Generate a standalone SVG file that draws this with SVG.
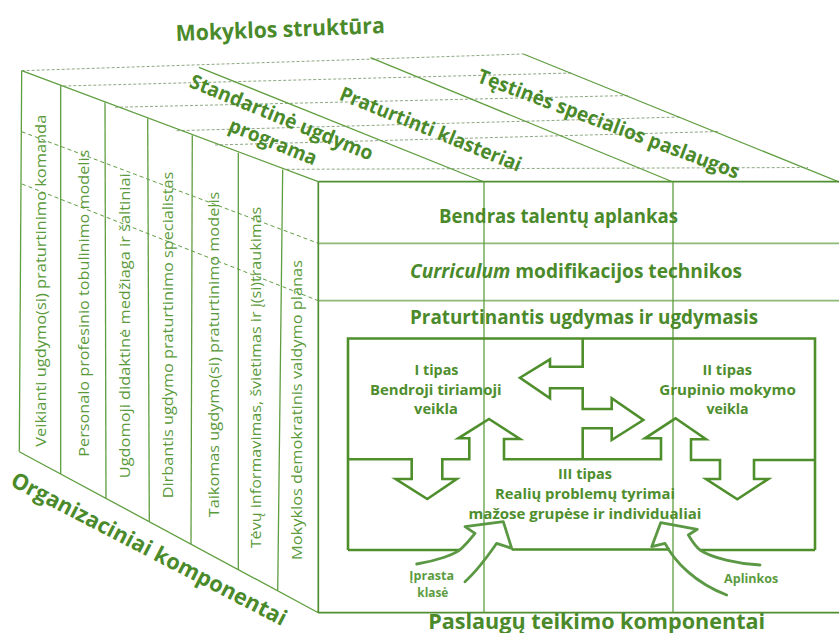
<svg xmlns="http://www.w3.org/2000/svg" width="839" height="633" viewBox="0 0 839 633">
<style>
text{font-family:"Open Sans","Noto Sans","DejaVu Sans",sans-serif}
.title{font-weight:700;font-size:22px;fill:#4a8a2a}
.topl{font-weight:700;font-size:20px;fill:#4a8a2a}
.front{font-weight:700;font-size:19px;fill:#4a8a2a}
.inner{font-weight:700;font-size:14.5px;fill:#4e8e2e}
.lab{font-weight:400;font-size:15px;fill:#5a9a3b}
.small{font-weight:700;font-size:12px;fill:#5c9b3f}
.edge{stroke:#4f8f30;stroke-width:1.7;fill:none}
.thin{stroke:#5f9e40;stroke-width:1.3;fill:none}
.pale{stroke:#8dbb77;stroke-width:1.8;fill:none}
.dash{stroke:#5f9e40;stroke-width:1;stroke-dasharray:4 3;fill:none}
.dashg{stroke:#8fa884;stroke-width:1;stroke-dasharray:3 2;fill:none}
.box{stroke:#4e8f2c;stroke-width:2.6;fill:none;stroke-linejoin:miter}
.hand{stroke:#5b9844;stroke-width:2.8;fill:none;stroke-linecap:round;stroke-linejoin:round}
</style>

<g id="cube">
  <line class="dashg" x1="21.7" y1="70.7" x2="523.4" y2="54"/>
  <line class="dashg" x1="63.3" y1="86" x2="572" y2="73"/>
  <line class="dashg" x1="115" y1="107.3" x2="630" y2="95.5"/>
  <line class="dashg" x1="176.7" y1="130.7" x2="680" y2="117"/>
  <line class="dashg" x1="215" y1="145" x2="719" y2="131.5"/>
  <line class="dashg" x1="286.7" y1="169.3" x2="808" y2="167.5"/>
  <line class="thin" x1="21.7" y1="70.7" x2="318.3" y2="181.7"/>
  <line class="thin" x1="199" y1="67.3" x2="484" y2="182"/>
  <line class="thin" x1="370.5" y1="57.6" x2="673" y2="182"/>
  <line class="thin" x1="523.4" y1="54" x2="839" y2="182"/>
  <line class="thin" x1="21.7" y1="70.7" x2="19.3" y2="451.7"/>
  <line class="thin" x1="19.3" y1="451.7" x2="318.3" y2="612.7"/>
  <line class="thin" x1="60.7" y1="85.5" x2="60.7" y2="474"/>
  <line class="thin" x1="105" y1="102.2" x2="106" y2="498.4"/>
  <line class="thin" x1="147.7" y1="118.4" x2="149.3" y2="521.7"/>
  <line class="thin" x1="192.3" y1="135.3" x2="191" y2="544.2"/>
  <line class="thin" x1="238.3" y1="152.7" x2="238.3" y2="569.6"/>
  <line class="thin" x1="282.7" y1="169.5" x2="277.7" y2="590.8"/>
  <line class="dash" x1="21.7" y1="131.7" x2="318.3" y2="243.3"/>
  <line class="dash" x1="22" y1="184" x2="318.3" y2="300.7"/>
  <line class="pale" x1="318.3" y1="243.3" x2="839" y2="243.3"/>
  <line class="pale" x1="318.3" y1="300.7" x2="839" y2="300.7"/>
  <line class="edge" x1="318.3" y1="181.7" x2="839" y2="181.7"/>
  <line class="edge" x1="318.3" y1="612.7" x2="839" y2="612.7"/>
  <line class="edge" x1="318.3" y1="181.7" x2="318.3" y2="612.7"/>
  <line class="thin" x1="484" y1="182" x2="484" y2="612.7"/>
  <line class="thin" x1="673" y1="182" x2="673" y2="612.7"/>
</g>

<g id="titles">
  <text class="title" text-anchor="middle" textLength="209" lengthAdjust="spacingAndGlyphs" transform="translate(280.5,37) rotate(-2.2)">Mokyklos struktūra</text>
  <text class="title" text-anchor="middle" textLength="307" lengthAdjust="spacingAndGlyphs" transform="translate(145.5,555.7) rotate(27.4)">Organizaciniai komponentai</text>
  <text class="title" text-anchor="middle" x="596.7" y="628.5" textLength="337" lengthAdjust="spacingAndGlyphs">Paslaugų teikimo komponentai</text>
</g>

<g id="node-standartine">
  <text class="topl" text-anchor="middle" textLength="196" lengthAdjust="spacingAndGlyphs" transform="translate(279.1,123.8) rotate(22.2)">Standartinė ugdymo</text>
  <text class="topl" text-anchor="middle" textLength="93" lengthAdjust="spacingAndGlyphs" transform="translate(270.4,148.2) rotate(22)">programa</text>
</g>
<g id="node-praturtinti">
  <text class="topl" text-anchor="middle" textLength="194" lengthAdjust="spacingAndGlyphs" transform="translate(428.1,135.6) rotate(22)">Praturtinti klasteriai</text>
</g>
<g id="node-testines">
  <text class="topl" text-anchor="middle" textLength="278" lengthAdjust="spacingAndGlyphs" transform="translate(606.2,130.4) rotate(20.5)">Tęstinės specialios paslaugos</text>
</g>

<g id="node-org1"><text class="lab" textLength="332" lengthAdjust="spacingAndGlyphs" transform="translate(45.5,446.7) rotate(-90)">Veikianti ugdymo(si) praturtinimo komanda</text></g>
<g id="node-org2"><text class="lab" textLength="307" lengthAdjust="spacingAndGlyphs" transform="translate(89,456.7) rotate(-90)">Personalo profesinio tobulinimo modelis</text></g>
<g id="node-org3"><text class="lab" textLength="305" lengthAdjust="spacingAndGlyphs" transform="translate(129.7,478.3) rotate(-90)">Ugdomoji didaktinė medžiaga ir šaltiniai</text></g>
<g id="node-org4"><text class="lab" textLength="326.6" lengthAdjust="spacingAndGlyphs" transform="translate(173,498.3) rotate(-90)">Dirbantis ugdymo praturtinimo specialistas</text></g>
<g id="node-org5"><text class="lab" textLength="325.6" lengthAdjust="spacingAndGlyphs" transform="translate(219,517.3) rotate(-90)">Taikomas ugdymo(si) praturtinimo modelis</text></g>
<g id="node-org6"><text class="lab" textLength="341.6" lengthAdjust="spacingAndGlyphs" transform="translate(261.4,548.3) rotate(-90)">Tėvų informavimas, švietimas ir į(si)traukimas</text></g>
<g id="node-org7"><text class="lab" textLength="300" lengthAdjust="spacingAndGlyphs" transform="translate(302,560) rotate(-90)">Mokyklos demokratinis valdymo planas</text></g>

<g id="node-bendras"><text class="front" text-anchor="middle" x="558.6" y="222.5" textLength="239" lengthAdjust="spacingAndGlyphs">Bendras talentų aplankas</text></g>
<g id="node-curriculum"><text class="front" text-anchor="middle" x="576" y="278" textLength="332" lengthAdjust="spacingAndGlyphs"><tspan font-style="italic">Curriculum</tspan> modifikacijos technikos</text></g>
<g id="node-praturtinantis"><text class="front" text-anchor="middle" x="584" y="323.5" textLength="348" lengthAdjust="spacingAndGlyphs">Praturtinantis ugdymas ir ugdymasis</text></g>

<g id="node-frame">
  <path class="box" d="M348,550 L348,338.5 L815,338.5 L815,550"/>
  <line class="box" x1="348" y1="550" x2="460" y2="550"/>
  <line class="box" x1="511.7" y1="549.5" x2="670" y2="549.5"/>
  <line class="box" x1="700" y1="550" x2="815" y2="550"/>
</g>

<g id="node-tipas1">
  <text class="inner" text-anchor="middle" x="436.5" y="374.7" textLength="43.8" lengthAdjust="spacingAndGlyphs">I tipas</text>
  <text class="inner" text-anchor="middle" x="435.8" y="394.9" textLength="131.6" lengthAdjust="spacingAndGlyphs">Bendroji tiriamoji</text>
  <text class="inner" text-anchor="middle" x="436" y="413.8" textLength="43.9" lengthAdjust="spacingAndGlyphs">veikla</text>
</g>
<g id="node-tipas2">
  <text class="inner" text-anchor="middle" x="727.2" y="374.5" textLength="49.6" lengthAdjust="spacingAndGlyphs">II tipas</text>
  <text class="inner" text-anchor="middle" x="727.5" y="394.5" textLength="136.6" lengthAdjust="spacingAndGlyphs">Grupinio mokymo</text>
  <text class="inner" text-anchor="middle" x="727.5" y="413.8" textLength="42.2" lengthAdjust="spacingAndGlyphs">veikla</text>
</g>
<g id="node-tipas3">
  <text class="inner" text-anchor="middle" x="585" y="478.6" textLength="54" lengthAdjust="spacingAndGlyphs">III tipas</text>
  <text class="inner" text-anchor="middle" x="585" y="498.8" textLength="180" lengthAdjust="spacingAndGlyphs">Realių problemų tyrimai</text>
  <text class="inner" text-anchor="middle" x="585" y="519" textLength="232.8" lengthAdjust="spacingAndGlyphs">mažose grupėse ir individualiai</text>
</g>
<g id="node-iprasta">
  <text class="small" text-anchor="middle" x="431.7" y="580.3" textLength="44.7" lengthAdjust="spacingAndGlyphs">Įprasta</text>
  <text class="small" text-anchor="middle" x="432.8" y="597" textLength="31" lengthAdjust="spacingAndGlyphs">klasė</text>
</g>
<g id="node-aplinkos">
  <text class="small" text-anchor="middle" x="751.2" y="583.3" textLength="54.3" lengthAdjust="spacingAndGlyphs">Aplinkos</text>
</g>

<g id="connectors">
  <path class="box" d="M582.7,338.5 L582.7,366.7 L550,366.7 L550,359.3 L520,377.7 L550,398.3 L550,388.3 L582.7,388.3 L582.7,409 L611.7,409 L611.7,398.3 L643.3,420 L611.7,440 L611.7,428.3 L582.7,428.3 L582.7,459.3"/>
  <path class="box" d="M348,459.3 L411.7,459.3 L411.7,479 L395.7,479 L427.3,499 L456.7,479 L442.3,479 L442.3,459.3 L469.3,459.3 L469.3,438.3 L458.3,438.3 L489,419 L520,439 L504,439 L504,459.3 L661,459.3 L661,438.3 L645,438.3 L675.5,418.3 L706,439.3 L691,439.3 L691,460 L720,460 L720,479 L706,479 L737.3,499.3 L768.3,479 L754,479 L754,460 L815,460"/>
  <path class="hand" d="M416.7,564 C435,561 455,555 462,548 C468,542 472,537 475,533.3 L465,526.7 L503.3,521.7 L511.7,548.3 L496.7,543.3 C490,553 478,570 465,581.7"/>
  <path class="hand" d="M760,565 C738,564 712,558 700,550 C694,545 691,539 688.3,535 L697.3,529.3 L660.7,522.7 L651.7,546.7 L665,543.3 C675,562 695,583 726.7,595"/>
</g>
</svg>
